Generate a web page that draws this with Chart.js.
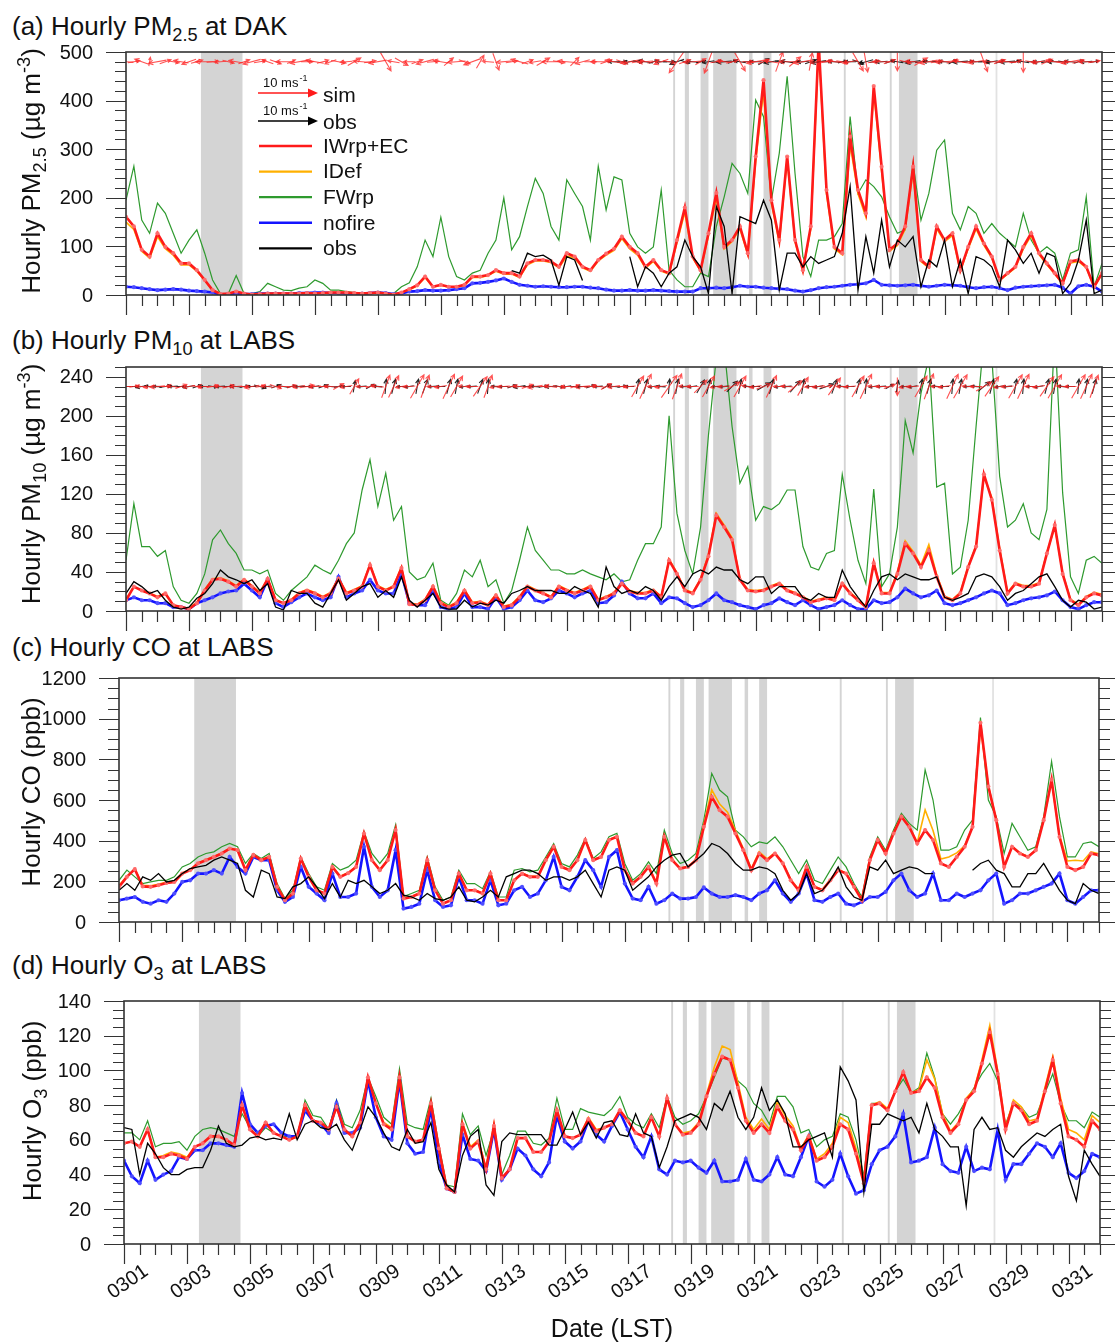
<!DOCTYPE html>
<html>
<head>
<meta charset="utf-8">
<script src="https://cdn.jsdelivr.net/npm/chart.js@4/dist/chart.umd.min.js"></script>
<style>
  body { margin: 0; background: #fff; width: 1115px; height: 1342px; position: relative; overflow: hidden;
         font-family: "Liberation Sans", Arial, Helvetica, sans-serif; color: #111; }
  canvas { position: absolute; left: 0; }
  .ttl { position: absolute; left: 12px; font-size: 26px; line-height: 28px; white-space: nowrap; }
  .yt { position: absolute; font-size: 26px; line-height: 28px; white-space: nowrap;
        transform: translate(-50%, -50%) rotate(-90deg); }
  .xt { position: absolute; font-size: 25px; line-height: 28px; white-space: nowrap; transform: translate(-50%, -50%); }
  sub, sup { font-size: 70%; line-height: 0; }
</style>
</head>
<body>
<div class="ttl" style="top:12px">(a) Hourly PM<sub>2.5</sub> at DAK</div>
<div class="ttl" style="top:326px">(b) Hourly PM<sub>10</sub> at LABS</div>
<div class="ttl" style="top:633px">(c) Hourly CO at LABS</div>
<div class="ttl" style="top:951px">(d) Hourly O<sub>3</sub> at LABS</div>

<canvas id="cA" width="1115" height="290" style="top:40px"></canvas>
<canvas id="cB" width="1115" height="290" style="top:355px"></canvas>
<canvas id="cC" width="1115" height="290" style="top:665px"></canvas>
<canvas id="cD" width="1115" height="354" style="top:988px"></canvas>

<div class="yt" style="left:31px;top:171px">Hourly PM<sub>2.5</sub> (µg m<sup>-3</sup>)</div>
<div class="yt" style="left:31px;top:484px">Hourly PM<sub>10</sub> (µg m<sup>-3</sup>)</div>
<div class="yt" style="left:31px;top:792px">Hourly CO (ppb)</div>
<div class="yt" style="left:32px;top:1111px">Hourly O<sub>3</sub> (ppb)</div>
<div class="xt" style="left:612px;top:1328px">Date (LST)</div>

<script>
// time axis: days since 0301 00 LST, sampled every 6 h
const days = [];
for (let i = 0; i <= 124; i++) days.push(i / 4);
const xTickLabels = ['0301','0303','0305','0307','0309','0311','0313','0315',
                     '0317','0319','0321','0323','0325','0327','0329','0331'];

// fire periods (grey shading), in days since 0301
const bandStart = [2.38, 17.38, 17.75, 18.25, 18.65, 19.79, 20.25, 22.80, 24.26, 24.55, 27.62];
const bandEnd   = [3.70, 17.44, 17.88, 18.50, 19.39, 19.90, 20.50, 22.86, 24.32, 25.14, 27.65];

// (a) PM2.5 at DAK
const pm25Ticks = [0, 100, 200, 300, 400, 500];
const pm25_IWrpEC = [161,141,93,79,127,99,86,65,65,51, 31,10,2,3,7,3,1,2,3,3, 3,3,3,4,3,4,5,5,5,4,
  3,4,5,3,1,5,12,20,38,17, 21,17,17,21,38,38,41,51,45,45, 38,65,72,72,69,58,86,79,58,51,
  72,85,95,120,99,86,58,72,51,45, 113,180,79,51,127,210,99,113,141,86, 285,442,195,113,285,113,51,141,520,216,
  99,86,326,216,168,430,264,93,106,141, 264,72,58,141,113,127,51,99,141,106, 79,31,45,58,99,127,86,65,45,24,
  69,72,58,17,45];
const pm25_IDef = [150,135,90,76,120,95,82,62,62,49, 30,10,2,3,7,3,1,2,3,3, 3,3,3,4,3,4,5,5,5,4,
  3,4,5,3,1,5,11,19,36,16, 20,16,16,20,36,36,40,49,43,43, 36,62,70,70,67,56,80,76,56,49,
  70,82,92,116,95,82,55,69,49,43, 108,170,76,49,122,200,95,110,136,83, 275,420,188,108,280,110,49,136,510,208,
  95,83,310,208,160,420,255,90,102,136, 255,69,56,136,110,122,49,95,136,102, 76,30,43,56,95,122,83,62,43,23,
  66,69,56,16,43];
const pm25_FWrp = [195,265,154,127,189,168,127,86,113,134, 86,31,3,3,40,3,3,7,24,17, 10,9,14,17,31,24,10,10,7,5,
  3,2,7,3,3,17,25,58,113,79, 160,79,38,31,45,51,86,113,200,93, 120,182,240,209,141,113,237,209,182,113,
  265,175,243,237,127,99,86,99,216,51, 31,17,17,45,38,141,202,271,250,209, 401,367,195,292,450,250,79,38,113,113,
  120,147,367,209,237,223,202,161,127,134, 271,154,209,298,319,168,134,182,168,127, 147,127,113,99,168,113,86,99,86,31,
  86,93,202,17,65];
const pm25_nofire = [17,16,14,12,10,11,12,11,9,8, 7,5,1,2,3,2,2,3,3,3, 3,3,4,4,5,5,4,4,3,3,
  3,4,5,4,2,3,7,8,10,9, 9,10,12,14,24,25,27,30,34,27, 21,19,17,18,17,16,16,17,17,15,
  14,11,9,9,10,9,9,10,9,8, 7,7,7,14,14,15,14,16,19,17, 17,15,14,13,12,9,7,10,14,16,
  17,19,21,22,24,31,21,20,19,20, 21,19,17,19,21,20,19,16,14,16, 17,14,10,15,17,18,19,20,21,15,
  3,18,21,17,7];
const pm25_obs = [null,null,null,null,null,null,null,null,null,null, null,null,null,null,null,null,null,null,null,null,
  null,null,null,null,null,null,null,null,null,null, null,null,null,null,null,null,null,null,null,null,
  null,null,null,null,null,null,null,null,null,50, 45,86,79,82,72,20,79,72,30,null,
  null,null,null,null,79,17,58,45,17,45, 58,113,79,58,3,182,141,3,161,154, 147,195,154,10,86,86,58,79,65,72,
  79,127,223,10,120,45,154,58,113,99, 120,17,72,58,113,17,72,3,79,72, 58,17,113,93,65,86,45,86,79,3,
  24,72,154,3,10];

// (b) PM10 at LABS
const pm10Ticks = [0, 40, 80, 120, 160, 200, 240];
const pm10_IWrpEC = [11,25,21,18,14,18,6,4,2,8, 21,32,33,30,25,32,25,18,33,11, 8,11,18,21,18,14,18,33,18,21,
  25,47,25,21,25,44,7,6,11,25, 8,4,8,21,8,9,6,16,4,6, 14,25,21,18,14,25,21,18,21,25,
  11,14,18,28,20,18,18,21,14,52, 38,21,18,32,56,98,86,73,32,21, 20,21,25,28,21,18,14,9,11,13,
  11,28,18,11,4,49,18,18,38,69, 59,45,62,35,14,11,18,45,66,140, 114,62,18,28,25,25,28,59,88,38,
  11,6,14,18,16];
const pm10_IDef = [12,25,21,18,15,18,6,4,3,9, 22,33,34,31,26,33,26,19,33,12, 8,12,19,22,19,15,19,34,19,22,
  26,48,26,22,26,45,8,7,12,26, 9,5,9,22,9,10,7,17,5,7, 15,26,22,19,15,26,22,19,22,26,
  12,15,19,29,21,19,19,22,15,53, 39,22,19,33,58,100,88,75,33,22, 21,22,26,29,22,19,15,10,12,14,
  12,29,19,12,5,50,19,19,40,72, 61,47,68,37,15,12,19,46,67,138, 116,64,19,29,26,26,29,60,86,39,
  12,7,15,19,17];
const pm10_FWrp = [52,110,66,66,56,62,25,11,8,18, 38,73,83,69,59,42,42,38,42,18, 11,21,28,35,47,42,38,52,69,80,
  124,155,107,141,93,107,40,32,35,49, 11,6,18,42,35,52,25,32,8,21, 52,86,62,52,42,42,38,38,42,38,
  35,32,38,30,32,52,69,69,86,200, 100,62,38,86,180,260,270,189,131,148, 93,107,104,110,124,124,66,45,42,59,
  62,140,93,52,28,125,25,38,86,195, 162,223,260,127,131,38,45,93,189,280, 260,138,86,93,110,80,73,104,290,121,
  35,18,52,56,49];
const pm10_nofire = [11,14,11,11,8,8,4,4,2,8, 11,14,18,20,21,28,21,14,32,8, 4,9,14,18,14,11,14,35,14,18,
  21,32,21,18,18,38,8,6,6,21, 4,2,4,18,4,4,2,14,2,4, 11,21,11,9,13,21,18,14,18,21,
  8,9,16,30,18,13,13,18,8,14, 13,8,4,6,11,18,11,9,6,4, 2,6,8,13,9,6,11,6,2,4,
  6,11,6,2,2,11,8,9,14,23, 18,14,16,21,8,6,8,11,14,18, 21,18,6,8,11,13,14,16,20,11,
  4,2,6,9,9];
const pm10_obs = [18,30,25,18,21,11,4,2,4,13, 18,28,42,35,32,28,32,21,28,4, 1,21,18,18,8,4,18,32,11,18,
  25,28,14,21,14,35,11,4,11,18, 4,2,2,11,4,8,6,11,8,18, 21,25,21,21,21,18,18,25,21,18,
  4,45,25,18,21,18,25,21,11,25, 35,25,38,42,38,45,42,42,32,28, 35,35,18,25,25,25,14,11,18,14,
  14,42,25,14,4,21,35,38,32,38, 35,32,32,35,14,11,14,18,35,38, 35,25,11,18,21,28,35,38,25,11,
  4,11,9,2,4];

// (c) CO at LABS
const coTicks = [0, 200, 400, 600, 800, 1000, 1200];
const co_IWrpEC = [173,222,260,175,173,181,192,197,238,255, 288,304,320,337,361,353,255,330,304,320,
  173,107,140,312,222,156,140,271,222,240, 271,435,304,255,304,452,115,123,140,304,
  156,90,107,238,156,156,140,238,107,107, 205,238,222,222,304,370,271,255,304,403,
  304,320,403,419,255,189,222,271,189,419, 304,263,271,304,468,616,550,518,435,353,
  255,337,304,337,288,205,156,271,173,156, 205,255,238,173,107,304,403,337,435,518,
  468,386,452,403,288,271,320,370,468,980, 666,501,271,370,337,320,353,501,700,419,
  271,255,271,337,329];
const co_IDef = [180,225,262,180,178,185,196,200,240,258, 290,306,322,340,362,355,258,332,306,322,
  178,110,142,314,225,160,142,274,225,243, 274,436,306,258,306,454,118,125,142,306,
  158,92,108,240,158,158,142,240,108,108, 207,240,225,225,306,372,274,258,306,405,
  306,322,405,421,258,192,225,274,192,421, 306,266,274,306,480,650,580,540,450,360,
  262,345,310,340,292,208,160,274,176,160, 208,258,240,176,110,306,405,340,438,520,
  470,390,551,450,310,320,340,375,470,960, 670,505,275,372,340,322,355,505,690,425,
  300,304,300,345,335];
const co_FWrp = [205,255,222,189,197,205,205,222,271,288, 320,337,345,370,386,370,288,337,312,337,
  189,115,156,320,238,173,156,288,255,271, 304,444,337,288,337,477,125,140,156,320,
  173,107,123,255,189,189,164,247,123,123, 255,263,247,255,320,386,288,271,329,411,
  312,345,419,436,288,205,238,296,238,452, 337,288,304,337,501,731,649,616,452,419,
  370,394,386,419,370,304,238,304,205,189, 255,320,271,189,123,320,419,353,452,534,
  485,452,748,600,353,353,370,452,501,1005, 600,518,337,485,419,353,370,518,790,518,
  320,320,386,394,370];
const co_nofire = [107,115,123,99,90,107,99,140,197,205, 238,238,255,238,320,271,238,320,304,304,
  156,99,123,271,173,140,107,238,123,123, 140,370,173,123,156,353,66,74,90,255,
  107,74,82,222,107,107,90,205,82,90, 156,173,123,140,205,320,173,156,222,304,
  255,173,320,353,189,115,107,173,90,107, 140,115,115,123,170,140,123,123,132,123,
  107,140,156,205,140,99,140,238,107,99, 123,140,90,82,99,123,123,148,205,238,
  156,123,140,238,107,107,140,123,140,156, 205,238,90,107,140,140,156,173,189,238,
  107,90,123,156,156];
const co_obs = [156,189,156,222,205,238,197,205,238,263, 271,279,304,320,304,288,156,123,255,238,
  123,115,173,189,222,173,115,189,123,205, 189,205,173,140,156,189,132,123,107,140,
  115,107,123,173,107,99,123,156,123,222, 238,255,255,238,205,222,222,205,222,255,
  189,123,255,271,255,156,189,222,271,304, 329,337,271,304,337,386,370,337,288,255,
  255,271,263,238,156,107,140,238,140,156, 205,271,173,123,107,271,255,304,238,255,
  271,263,238,238,null,null,null,null,255,288, 304,255,238,173,173,238,238,288,222,156,
  107,90,189,156,140];

// (d) O3 at LABS
const o3Ticks = [0, 20, 40, 60, 80, 100, 120, 140];
const o3_IWrpEC = [58,59,56,66,50,50,52,51,49,56, 58,62,62,60,57,80,66,62,70,64, 62,60,62,80,71,70,66,79,66,62,
  70,96,81,69,66,96,62,59,60,81, 55,32,30,69,55,59,43,68,38,43, 61,61,53,53,59,77,62,61,63,72,
  65,67,69,77,71,64,62,73,62,84, 69,63,64,69,85,98,108,106,90,71, 64,69,64,79,71,66,54,62,48,50,
  56,69,66,52,35,80,81,77,88,99, 87,88,96,90,73,64,69,83,88,104, 122,98,66,81,77,69,71,88,106,81,
  62,60,56,71,66];
const o3_IDef = [58,59,56,66,50,51,53,52,50,56, 58,62,62,60,57,80,66,62,70,64, 62,60,62,80,71,70,66,79,66,62,
  70,96,81,70,67,97,62,59,60,81, 55,32,30,70,56,60,44,69,38,43, 61,61,53,53,59,77,62,61,63,73,
  66,67,69,77,71,64,62,73,62,84, 69,64,65,70,86,102,114,112,93,73, 66,72,66,82,74,68,55,63,49,52,
  58,73,70,55,36,80,82,78,88,99, 87,89,106,95,75,65,70,84,89,106, 126,100,67,83,79,71,72,90,108,84,
  66,64,60,74,70];
const o3_FWrp = [64,64,60,71,56,58,58,59,54,62, 66,67,66,64,62,75,67,62,67,64, 62,62,61,83,74,73,66,83,69,67,
  77,96,85,73,69,101,69,67,66,84, 57,34,33,75,63,68,51,66,40,51, 65,65,58,57,61,84,66,66,78,76,
  75,74,78,85,73,69,67,75,67,85, 73,69,71,75,85,96,107,106,94,90, 81,77,69,85,85,79,64,66,56,60,
  62,75,73,60,39,81,81,77,88,95, 87,90,110,96,75,69,75,83,90,98, 104,94,69,81,79,73,75,87,98,81,
  71,71,67,76,73];
const o3_nofire = [48,39,35,48,37,40,42,50,49,54, 54,58,58,57,56,87,69,64,68,69, 64,62,62,77,71,69,64,81,64,64,
  67,94,73,62,60,94,58,52,53,78, 47,32,30,63,49,48,42,66,37,43, 55,51,43,39,47,74,59,55,59,71,
  63,59,68,76,66,56,50,62,43,40, 48,47,48,44,41,48,36,36,37,49, 37,36,40,50,40,39,50,62,36,33,
  37,52,39,29,31,46,54,56,62,75, 47,48,50,67,46,42,41,56,42,44, 43,66,37,46,46,52,58,56,50,58,
  41,38,42,52,50];
const o3_obs = [67,66,40,58,52,44,40,40,43,44, 44,54,68,58,56,57,61,62,60,61, 60,75,60,69,71,67,66,69,60,54,
  66,79,73,64,56,54,66,58,59,70, 43,34,30,51,62,66,34,28,59,64, 63,63,63,63,57,57,66,76,63,70,
  61,70,71,63,62,75,64,62,44,56, 71,73,75,73,66,81,77,88,73,66, 73,90,77,83,75,56,56,60,62,64,
  50,102,94,83,30,69,69,75,73,71, 73,64,81,66,62,56,56,22,66,73, 66,67,54,50,56,60,64,62,66,69,
  39,25,54,46,39];

// wind vectors (direction the arrow points, degrees from east, counter-clockwise; speed m/s)
const windDirSimA = [175,10,160,80, 190,20,350,170, 200,15,180,5, 185,345,170,20, 195,10,160,340, 180,25,190,0,
  170,15,200,350, 185,30,175,10, 190,300,170,330, 180,20,195,5, 170,40,185,340, 200,60,175,290,
  185,10,165,20, 190,30,180,350, 175,45,195,0, 180,20,170,340, 190,10,185,15, 200,350,235,20,
  185,30,250,10, 175,15,300,0, 190,20,170,70, 180,40,190,80, 185,10,175,350, 190,300,280,10,
  180,20,270,345, 175,30,190,10, 185,15,170,5, 190,290,180,20, 175,10,270,350, 185,25,170,0, 190,15,180,10];
const windSpdSimA = [2.5,2,2.5,1.5, 3,2,2,2.5, 2.5,2,3,2, 2,2,2.5,2, 3,2,2,2, 2.5,1.5,3,2,
  3,2,2,2.5, 2,2.5,3,2, 3,3.5,2,2.5, 2,2,3,2, 2.5,2,3,2, 3,2.5,2,3,
  2.5,2,3,2, 2,2.5,3,2, 3,2,2.5,2, 2.5,2,3,2, 3,2,2.5,2, 2.5,2,4.5,2,
  3,2,4,2, 2.5,2,3.5,2, 3,2,2.5,3.5, 2.5,2.5,3,3, 3,2,2.5,2, 2.5,3.5,3.5,2,
  3,2,3,2, 2.5,2.5,3,2, 3,2,2.5,2, 2.5,3.5,3,2, 3,2,3.5,2, 2.5,2,3,2, 3,2,2.5,2];
const windDirObsA = [null,null,null,null,null,null,null,null,null,null, null,null,null,null,null,null,null,null,null,null,
  null,null,null,null,null,null,null,null,null,null, null,null,null,null,null,null,null,null,null,null,
  null,null,null,null,null,null,null,null,null,null, null,null,null,null,null,null,null,null,null,null,
  null,null, 180,10, 190,350,170,20, 180,0,200,340, 175,15,190,10, 185,20,170,0, 180,30,190,350,
  170,10,185,20, 190,0,175,15, 180,340,195,10, 185,20,170,0, 190,10,180,350, 175,30,185,10,
  180,0,190,20, 185,15,170,0, 190,10,180,350, 175,20,185,10];
const windSpdObsA = [null,null,null,null,null,null,null,null,null,null, null,null,null,null,null,null,null,null,null,null,
  null,null,null,null,null,null,null,null,null,null, null,null,null,null,null,null,null,null,null,null,
  null,null,null,null,null,null,null,null,null,null, null,null,null,null,null,null,null,null,null,null,
  null,null, 2,1.5, 2,1.5,2.5,1.5, 2,2,2.5,1.5, 2,1.5,2,1.5, 2.5,1.5,2,1.5, 2,2,2.5,1.5,
  2,1.5,2,2, 2.5,1.5,2,1.5, 2,2,2.5,1.5, 2,1.5,2,1.5, 2.5,2,2,1.5, 2,1.5,2.5,1.5,
  2,2,2,1.5, 2.5,1.5,2,1.5, 2,2,2.5,1.5, 2,1.5,2,1.5];
const windDirSimB = [180,10,175,190, 185,0,170,20, 190,350,180,10, 175,15,185,0, 190,10,170,340, 180,20,190,10,
  185,0,175,30, 190,60,180,20, 175,70,65,190, 185,60,70,180, 190,65,60,175, 180,55,70,190,
  185,10,175,20, 190,0,170,350, 180,20,185,10, 175,30,190,0, 185,60,65,180, 190,55,70,175,
  180,45,60,190, 185,30,60,170, 190,20,65,180, 175,40,60,185, 190,10,55,180, 185,60,65,175,
  180,20,270,190, 185,60,70,180, 190,65,60,175, 180,30,55,190, 185,60,65,180, 190,55,60,175, 180,60,65,70];
const windSpdSimB = [2,1.5,2,2, 2.5,1.5,2,2, 2,1.5,2.5,2, 2,2,2,1.5, 2.5,1.5,2,2, 2,1.5,2,2.5,
  2,1.5,2,2, 2,3,2,1.5, 2,4,4,2, 2,4.5,4,2, 2,4.5,4,2, 2,4,4,2,
  2,1.5,2,2, 2.5,1.5,2,2, 2,1.5,2.5,2, 2,2,2,1.5, 2,4,4.5,2, 2,4.5,4.5,2,
  2,3,4,2, 2,3,4,2, 2,2.5,4,2, 2,3,3.5,2, 2,2,3.5,2, 2,4,4.5,2,
  2,2,3,2, 2,4,4.5,2, 2,4.5,4.5,2, 2,3,4,2, 2,4.5,4.5,2, 2,4,4.5,2, 2,4.5,4.5,4];
const windDirObsB = [180,0,190,170, 175,10,185,0, 190,20,180,350, 185,0,175,10, 180,345,190,20, 170,10,185,0,
  190,20,175,10, 180,80,185,30, 175,85,75,180, 190,80,70,185, 180,75,80,190, 185,70,85,175,
  180,20,190,0, 175,10,185,350, 190,0,180,20, 185,30,175,10, 180,80,75,190, 175,85,80,185,
  190,60,75,180, 185,45,80,175, 180,30,75,190, 185,50,80,180, 190,20,70,175, 180,75,85,190,
  185,30,80,180, 190,80,75,175, 180,85,80,185, 175,40,75,190, 185,80,85,180, 190,75,80,175, 180,85,80,75];
const windSpdObsB = [1.5,1.5,2,1.5, 1.5,2,1.5,1.5, 2,1.5,1.5,1.5, 1.5,1.5,2,1.5, 1.5,2,1.5,1.5, 2,1.5,1.5,1.5,
  1.5,1.5,2,1.5, 1.5,2,1.5,1.5, 1.5,2.5,2.5,1.5, 1.5,2.5,2.5,1.5, 1.5,2.5,2.5,1.5, 1.5,2.5,2.5,1.5,
  1.5,1.5,2,1.5, 1.5,1.5,2,1.5, 1.5,1.5,2,1.5, 1.5,1.5,2,1.5, 1.5,2.5,2.5,1.5, 1.5,2.5,2.5,1.5,
  1.5,2.5,2.5,1.5, 1.5,2.5,2.5,1.5, 1.5,2.5,2.5,1.5, 1.5,2.5,2.5,1.5, 1.5,2.5,2.5,1.5, 1.5,2.5,2.5,1.5,
  1.5,1.5,2,1.5, 1.5,2.5,2.5,1.5, 1.5,2.5,2.5,1.5, 1.5,2.5,2.5,1.5, 1.5,2.5,2.5,1.5, 1.5,2.5,2.5,1.5, 1.5,2.5,2.5,2.5];

const FONT = '"Liberation Sans", Arial, Helvetica, sans-serif';
const PX_PER_MS = 6; // 10 m/s reference arrow = 60 px
const COLORS = { sim: '#ff1a1a', idef: '#ffb000', fwrp: '#2e9a2e', nofire: '#1414ff', obs: '#000000' };

const pts = (vals) => vals.map((v, i) => ({ x: days[i], y: v }));

function drawArrow(ctx, x0, y0, x1, y1, head) {
  const ang = Math.atan2(y1 - y0, x1 - x0);
  ctx.beginPath();
  ctx.moveTo(x0, y0);
  ctx.lineTo(x1, y1);
  ctx.moveTo(x1 - head * Math.cos(ang - 0.45), y1 - head * Math.sin(ang - 0.45));
  ctx.lineTo(x1, y1);
  ctx.lineTo(x1 - head * Math.cos(ang + 0.45), y1 - head * Math.sin(ang + 0.45));
  ctx.stroke();
}

function refArrow(ctx, x0, x1, y, color) {
  ctx.strokeStyle = color; ctx.fillStyle = color; ctx.lineWidth = 1.5;
  ctx.beginPath(); ctx.moveTo(x0, y); ctx.lineTo(x1 - 8, y); ctx.stroke();
  ctx.beginPath(); ctx.moveTo(x1, y); ctx.lineTo(x1 - 10, y - 4.5); ctx.lineTo(x1 - 10, y + 4.5); ctx.closePath(); ctx.fill();
}

function refText(ctx, x, y) {
  ctx.fillStyle = '#111'; ctx.textAlign = 'left'; ctx.textBaseline = 'alphabetic';
  ctx.font = '13px ' + FONT;
  ctx.fillText('10 ms', x, y);
  const w = ctx.measureText('10 ms').width;
  ctx.font = '9px ' + FONT;
  ctx.fillText('-1', x + w + 1, y - 6);
}

function decor(cfg) {
  return {
    id: 'decor',
    beforeDatasetsDraw(chart) {
      const { ctx, chartArea: a, scales: { x } } = chart;
      ctx.save();
      ctx.beginPath(); ctx.rect(a.left, a.top, a.width, a.height); ctx.clip();
      bandStart.forEach((s, i) => {
        const x0 = x.getPixelForValue(s), x1 = x.getPixelForValue(bandEnd[i]);
        ctx.fillStyle = (x1 - x0) < 1.5 ? '#e2e2e2' : '#d4d4d4';
        ctx.fillRect(x0, a.top, Math.max(1.8, x1 - x0), a.height);
      });
      ctx.restore();
    },
    afterDatasetsDraw(chart) {
      if (!cfg.wind) return;
      const { ctx, chartArea: a, scales: { x, y } } = chart;
      ctx.save();
      ctx.beginPath(); ctx.rect(a.left, a.top, a.width, a.height); ctx.clip();
      ctx.lineWidth = 1.1;
      const py = y.getPixelForValue(cfg.windLevel);
      cfg.wind.forEach((w) => {
        ctx.strokeStyle = w.color;
        w.dirs.forEach((deg, i) => {
          if (deg == null) return;
          const len = w.spds[i] * PX_PER_MS;
          const r = deg * Math.PI / 180;
          const dx = Math.cos(r) * len, dy = -Math.sin(r) * len;
          const px = x.getPixelForValue(days[i]);
          drawArrow(ctx, px - dx / 2, py - dy / 2, px + dx / 2, py + dy / 2, Math.min(5, len * 0.35));
        });
      });
      ctx.restore();
    },
    afterDraw(chart) {
      const { ctx, chartArea: a, scales: { x, y } } = chart;
      ctx.save();
      ctx.strokeStyle = '#333';
      ctx.lineWidth = 1.2;
      ctx.beginPath();
      for (let v = 0; v <= cfg.yMax; v += cfg.yMinor) {
        const p = Math.round(y.getPixelForValue(v)) + 0.5;
        const L = cfg.yTicks.includes(v) ? 20 : 11;
        ctx.moveTo(a.left - L, p); ctx.lineTo(a.left, p);
        ctx.moveTo(a.right, p); ctx.lineTo(a.right + L, p);
      }
      for (let d = 0; d <= 31; d += 0.5) {
        const p = Math.round(x.getPixelForValue(d)) + 0.5;
        const L = d % 2 === 0 ? 20 : 11;
        ctx.moveTo(p, a.bottom); ctx.lineTo(p, a.bottom + L);
      }
      ctx.stroke();
      ctx.lineWidth = 1.6;
      ctx.strokeRect(a.left, a.top, a.width, a.height);

      ctx.fillStyle = '#111';
      ctx.font = '20px ' + FONT;
      ctx.textAlign = 'right';
      ctx.textBaseline = 'middle';
      cfg.yTicks.forEach((v) => ctx.fillText(String(v), a.left - 33, y.getPixelForValue(v) + 1));

      if (cfg.xLabels) {
        ctx.textAlign = 'center';
        xTickLabels.forEach((lab, i) => {
          const px = x.getPixelForValue(i * 2);
          ctx.save();
          ctx.translate(px + 4, a.bottom + 38);
          ctx.rotate(-35 * Math.PI / 180);
          ctx.fillText(lab, 0, 0);
          ctx.restore();
        });
      }

      if (cfg.legend) {
        const lx = a.left + 133, tx = a.left + 197;
        refText(ctx, a.left + 137, a.top + 35);
        refArrow(ctx, a.left + 132, a.left + 132 + 10 * PX_PER_MS, a.top + 41, COLORS.sim);
        refText(ctx, a.left + 137, a.top + 63);
        refArrow(ctx, a.left + 132, a.left + 132 + 10 * PX_PER_MS, a.top + 69, COLORS.obs);
        ctx.font = '21px ' + FONT;
        ctx.fillStyle = '#111';
        ctx.textAlign = 'left';
        ctx.textBaseline = 'middle';
        ctx.fillText('sim', tx, a.top + 44);
        ctx.fillText('obs', tx, a.top + 71);
        const items = [['IWrp+EC', COLORS.sim, 2.6], ['IDef', COLORS.idef, 2.2], ['FWrp', COLORS.fwrp, 2.2],
                       ['nofire', COLORS.nofire, 2.6], ['obs', COLORS.obs, 2.2]];
        items.forEach(([lab, col, lw], i) => {
          const yy = a.top + 94 + i * 25.6;
          ctx.strokeStyle = col; ctx.lineWidth = lw;
          ctx.beginPath(); ctx.moveTo(lx, yy); ctx.lineTo(lx + 53, yy); ctx.stroke();
          ctx.fillStyle = '#111';
          ctx.fillText(lab, tx, yy + 1);
        });
      }
      ctx.restore();
    }
  };
}

function makeChart(id, pad, yMax, yTicks, yMinor, s, extra) {
  const line = (label, vals, color, width, dots) => ({
    label, data: pts(vals), borderColor: color, borderWidth: width, tension: 0, spanGaps: false,
    pointRadius: dots ? 2.1 : 0, pointBorderWidth: 0, pointBackgroundColor: dots ? dots : color
  });
  const datasets = [
    line('obs', s.obs, COLORS.obs, 1.3),
    line('IWrp+EC', s.iwrp, COLORS.sim, 2.6, 'rgba(255,110,110,0.95)'),
    line('IDef', s.idef, COLORS.idef, 1.6),
    line('nofire', s.nofire, COLORS.nofire, 2.6, 'rgba(80,80,255,0.95)'),
    line('FWrp', s.fwrp, COLORS.fwrp, 1.2)
  ];
  new Chart(document.getElementById(id), {
    type: 'line',
    data: { datasets },
    options: {
      responsive: false, animation: false, events: [],
      layout: { padding: pad },
      plugins: { legend: { display: false }, tooltip: { enabled: false } },
      scales: {
        x: { type: 'linear', min: 0, max: 31, display: false },
        y: { type: 'linear', min: 0, max: yMax, display: false }
      }
    },
    plugins: [decor(Object.assign({ yMax, yTicks, yMinor }, extra))]
  });
}

makeChart('cA', { left: 126, right: 13, top: 12, bottom: 35 }, 500, pm25Ticks, 20,
  { iwrp: pm25_IWrpEC, idef: pm25_IDef, fwrp: pm25_FWrp, nofire: pm25_nofire, obs: pm25_obs },
  { legend: true, windLevel: 480, wind: [
      { dirs: windDirObsA, spds: windSpdObsA, color: 'rgba(0,0,0,0.85)' },
      { dirs: windDirSimA, spds: windSpdSimA, color: 'rgba(255,40,40,0.8)' }] });

makeChart('cB', { left: 126, right: 13, top: 12, bottom: 34 }, 250, pm10Ticks, 10,
  { iwrp: pm10_IWrpEC, idef: pm10_IDef, fwrp: pm10_FWrp, nofire: pm10_nofire, obs: pm10_obs },
  { windLevel: 230, wind: [
      { dirs: windDirObsB, spds: windSpdObsB, color: 'rgba(0,0,0,0.85)' },
      { dirs: windDirSimB, spds: windSpdSimB, color: 'rgba(255,40,40,0.8)' }] });

makeChart('cC', { left: 119, right: 16, top: 13, bottom: 33 }, 1200, coTicks, 50,
  { iwrp: co_IWrpEC, idef: co_IDef, fwrp: co_FWrp, nofire: co_nofire, obs: co_obs }, {});

makeChart('cD', { left: 124, right: 15, top: 13, bottom: 98 }, 140, o3Ticks, 5,
  { iwrp: o3_IWrpEC, idef: o3_IDef, fwrp: o3_FWrp, nofire: o3_nofire, obs: o3_obs }, { xLabels: true });
</script>
</body>
</html>
